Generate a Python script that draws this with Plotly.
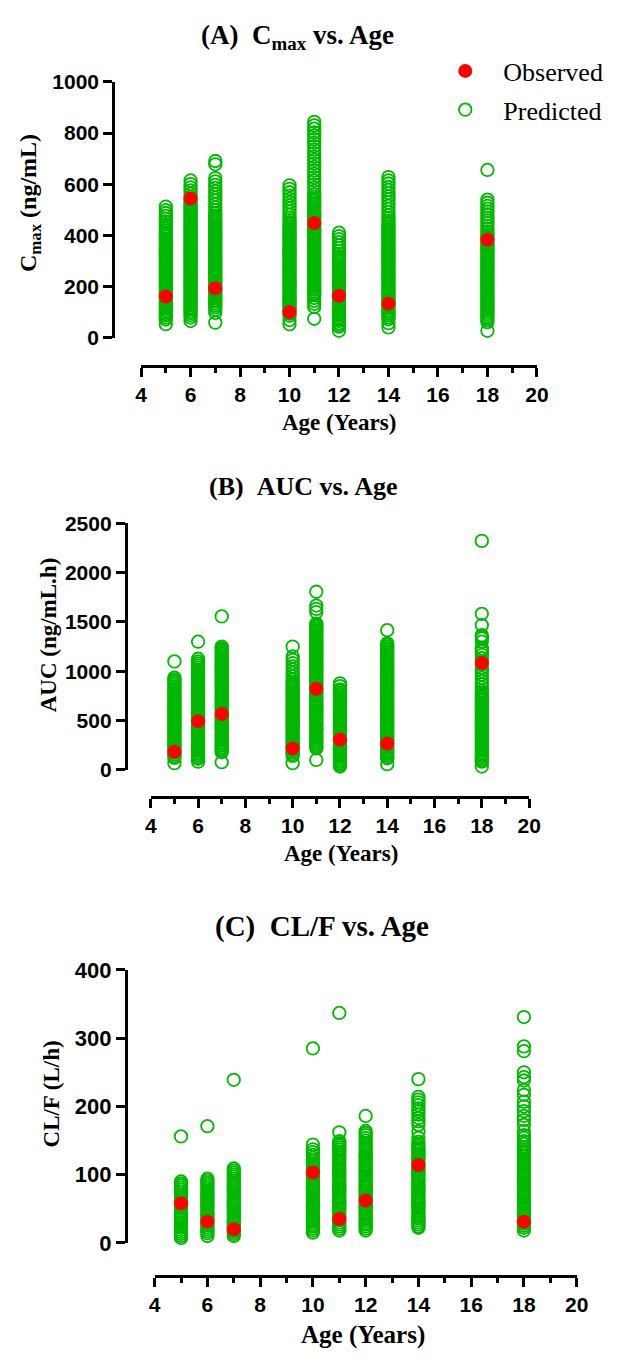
import plotly.graph_objects as go

# ---------------- data ----------------
ages = [5, 6, 7, 10, 11, 12, 14, 18]
x_ticks = [4, 6, 8, 10, 12, 14, 16, 18, 20]

# (A) Cmax (ng/mL)
cmax_observed = [162, 545, 194, 101, 449, 165, 134, 383]
cmax_age5 = [513, 499, 488, 477, 466, 455, 444, 434, 426, 419, 411, 403, 396, 388, 381, 374, 367, 360, 352, 346, 338, 331, 324, 317, 309, 303, 295, 288, 281, 274, 266, 260, 252, 245, 238, 231, 223, 217, 209, 202, 195, 188, 180, 174, 166, 159, 152, 145, 137, 131, 123, 116, 109, 102, 94, 88, 80, 72, 54]
cmax_age6 = [615, 601, 588, 576, 563, 551, 540, 530, 521, 513, 506, 499, 491, 484, 477, 470, 462, 456, 448, 441, 434, 427, 419, 413, 405, 398, 391, 384, 376, 370, 362, 355, 348, 341, 333, 327, 319, 312, 305, 298, 290, 284, 276, 269, 262, 255, 247, 241, 233, 226, 219, 212, 204, 198, 190, 183, 176, 169, 161, 155, 147, 140, 133, 126, 118, 112, 104, 97, 89, 80, 66]
cmax_age7 = [691, 678, 624, 611, 598, 586, 573, 561, 548, 536, 523, 511, 499, 488, 479, 472, 464, 457, 450, 443, 435, 428, 421, 414, 406, 400, 392, 385, 378, 371, 363, 357, 349, 342, 335, 328, 320, 314, 306, 299, 292, 285, 277, 271, 263, 256, 249, 242, 234, 228, 220, 213, 206, 199, 191, 185, 177, 170, 163, 156, 148, 142, 134, 127, 120, 110, 98, 60]
cmax_age10 = [596, 582, 569, 556, 543, 530, 517, 505, 493, 481, 470, 460, 451, 443, 436, 429, 421, 414, 407, 400, 392, 385, 378, 371, 363, 356, 349, 342, 334, 327, 320, 313, 305, 298, 291, 284, 276, 269, 262, 255, 247, 240, 233, 226, 218, 211, 204, 197, 189, 182, 175, 168, 160, 153, 146, 139, 131, 124, 117, 110, 102, 95, 87, 70, 54]
cmax_age11 = [844, 830, 817, 803, 790, 776, 762, 749, 735, 722, 708, 695, 681, 668, 654, 641, 627, 614, 600, 587, 574, 561, 551, 543, 536, 529, 521, 514, 507, 500, 492, 485, 478, 471, 463, 456, 449, 442, 434, 427, 420, 413, 405, 398, 391, 384, 376, 369, 362, 355, 347, 340, 333, 326, 318, 311, 304, 297, 289, 282, 275, 268, 260, 253, 246, 239, 231, 224, 217, 210, 202, 195, 188, 181, 173, 166, 156, 145, 133, 121, 75]
cmax_age12 = [411, 398, 386, 374, 362, 350, 339, 328, 319, 312, 305, 298, 290, 283, 276, 269, 261, 254, 247, 240, 232, 225, 218, 211, 203, 196, 189, 182, 174, 167, 160, 153, 145, 138, 131, 124, 116, 109, 102, 95, 87, 80, 73, 66, 58, 51, 44, 28]
cmax_age14 = [628, 615, 603, 590, 578, 566, 553, 541, 529, 516, 504, 492, 480, 469, 459, 450, 443, 436, 428, 421, 414, 407, 399, 392, 385, 378, 370, 363, 356, 349, 341, 334, 327, 320, 312, 305, 298, 291, 283, 276, 269, 262, 254, 247, 240, 233, 225, 218, 211, 204, 196, 189, 182, 175, 167, 160, 153, 146, 138, 131, 124, 117, 109, 102, 95, 88, 80, 73, 58, 41]
cmax_age18 = [656, 540, 528, 516, 505, 494, 482, 470, 459, 448, 437, 426, 415, 405, 397, 390, 383, 375, 368, 361, 354, 346, 339, 332, 325, 317, 310, 303, 296, 288, 281, 274, 267, 259, 252, 245, 238, 230, 223, 216, 209, 201, 194, 187, 180, 172, 165, 158, 151, 143, 136, 129, 122, 114, 107, 100, 93, 85, 78, 70, 62, 28]

# (B) AUC (ng/mL.h)
auc_observed = [183, 493, 567, 217, 823, 307, 267, 1083]
auc_age5 = [1100, 935, 917, 899, 882, 864, 846, 829, 811, 793, 776, 758, 740, 723, 707, 690, 673, 656, 640, 623, 606, 589, 573, 556, 539, 522, 506, 489, 472, 455, 439, 422, 405, 388, 372, 355, 338, 321, 305, 288, 271, 254, 238, 221, 204, 187, 171, 154, 137, 120, 67]
auc_age6 = [1300, 1127, 1100, 1080, 1060, 1040, 1020, 1000, 983, 966, 950, 933, 916, 899, 883, 866, 849, 832, 816, 799, 782, 765, 749, 732, 715, 698, 682, 665, 648, 631, 615, 598, 581, 564, 548, 531, 514, 497, 481, 464, 447, 430, 414, 397, 380, 363, 347, 330, 313, 296, 280, 263, 246, 229, 213, 196, 179, 162, 146, 129, 112, 83]
auc_age7 = [1557, 1250, 1233, 1216, 1200, 1183, 1166, 1149, 1133, 1116, 1099, 1083, 1066, 1049, 1032, 1016, 999, 982, 965, 949, 932, 915, 898, 882, 865, 848, 831, 815, 798, 781, 764, 748, 731, 714, 697, 681, 664, 647, 630, 614, 597, 580, 563, 547, 530, 513, 496, 480, 463, 446, 429, 413, 396, 379, 362, 346, 329, 312, 295, 279, 262, 245, 228, 212, 195, 178, 77]
auc_age10 = [1250, 1150, 1117, 1083, 1050, 1017, 983, 950, 917, 895, 878, 861, 844, 828, 811, 794, 777, 761, 744, 727, 710, 694, 677, 660, 643, 627, 610, 593, 576, 560, 543, 526, 509, 493, 476, 459, 442, 426, 409, 392, 375, 359, 342, 325, 308, 292, 275, 258, 241, 225, 208, 191, 174, 158, 141, 67]
auc_age11 = [1807, 1667, 1633, 1600, 1483, 1466, 1450, 1433, 1416, 1400, 1383, 1366, 1350, 1333, 1316, 1300, 1283, 1266, 1250, 1233, 1216, 1200, 1183, 1166, 1150, 1133, 1116, 1100, 1083, 1066, 1050, 1033, 1016, 1000, 983, 966, 950, 933, 916, 900, 883, 866, 850, 833, 816, 800, 783, 766, 750, 733, 716, 700, 683, 666, 650, 633, 616, 600, 583, 566, 550, 533, 516, 500, 483, 466, 450, 433, 416, 400, 383, 366, 350, 333, 316, 300, 283, 266, 250, 233, 217, 100]
auc_age12 = [877, 850, 817, 800, 783, 767, 750, 733, 716, 699, 683, 666, 649, 632, 616, 599, 582, 565, 549, 532, 515, 498, 482, 465, 448, 431, 415, 398, 381, 364, 348, 331, 314, 297, 281, 264, 247, 230, 214, 197, 180, 163, 147, 130, 113, 96, 80, 63, 50, 33]
auc_age14 = [1417, 1283, 1267, 1250, 1233, 1217, 1200, 1183, 1167, 1150, 1133, 1117, 1100, 1083, 1066, 1049, 1033, 1016, 999, 982, 966, 949, 932, 915, 899, 882, 865, 848, 832, 815, 798, 781, 765, 748, 731, 714, 698, 681, 664, 647, 631, 614, 597, 580, 564, 547, 530, 513, 497, 480, 463, 446, 430, 413, 396, 379, 363, 346, 329, 312, 296, 279, 262, 245, 229, 212, 195, 178, 162, 145, 128, 117, 57]
auc_age18 = [2323, 1583, 1467, 1367, 1350, 1333, 1300, 1233, 1217, 1200, 1167, 1133, 1100, 1067, 1033, 1000, 967, 933, 900, 867, 833, 800, 783, 766, 749, 733, 716, 699, 682, 666, 649, 632, 615, 599, 582, 565, 548, 532, 515, 498, 481, 465, 448, 431, 414, 398, 381, 364, 347, 331, 314, 297, 280, 264, 247, 230, 213, 197, 180, 163, 146, 130, 113, 96, 83, 33]

# (C) CL/F (L/h)
cl_observed = [58, 31, 20, 103, 35, 62, 114, 31]
cl_age5 = [156, 90, 87, 84, 81, 78, 75, 72, 69, 66, 64, 61, 58, 55, 52, 50, 47, 44, 41, 38, 36, 33, 30, 27, 24, 22, 19, 16, 13, 10, 7]
cl_age6 = [171, 94, 91, 88, 85, 82, 79, 76, 73, 70, 68, 65, 62, 59, 56, 54, 51, 48, 45, 42, 40, 37, 34, 31, 28, 26, 23, 20, 17, 14, 10]
cl_age7 = [239, 109, 106, 103, 100, 97, 94, 91, 88, 86, 83, 80, 77, 74, 72, 69, 66, 63, 60, 58, 55, 52, 49, 46, 44, 41, 38, 35, 32, 30, 27, 24, 21, 18, 16, 13, 10]
cl_age10 = [285, 144, 137, 133, 129, 125, 122, 119, 116, 113, 110, 108, 105, 102, 99, 96, 94, 91, 88, 85, 82, 80, 77, 74, 71, 68, 66, 63, 60, 57, 54, 52, 49, 46, 43, 40, 38, 35, 32, 29, 26, 24, 21, 18, 15]
cl_age11 = [337, 162, 149, 146, 143, 140, 137, 134, 131, 128, 125, 122, 120, 117, 114, 111, 108, 106, 103, 100, 97, 94, 92, 89, 86, 83, 80, 78, 75, 72, 69, 66, 64, 61, 58, 55, 52, 50, 47, 44, 41, 38, 36, 33, 30, 27, 24, 21, 18]
cl_age12 = [186, 164, 161, 158, 154, 150, 146, 142, 139, 136, 133, 130, 127, 125, 122, 119, 116, 113, 111, 108, 105, 102, 99, 97, 94, 91, 88, 85, 83, 80, 77, 74, 71, 69, 66, 63, 60, 57, 55, 52, 49, 46, 43, 41, 38, 35, 32, 29, 27, 24, 21, 18]
cl_age14 = [240, 214, 210, 206, 202, 197, 193, 188, 183, 178, 173, 163, 154, 148, 145, 142, 139, 136, 134, 131, 128, 125, 122, 120, 117, 114, 111, 108, 106, 103, 100, 97, 94, 92, 89, 86, 83, 80, 78, 75, 72, 69, 66, 64, 61, 58, 55, 52, 50, 47, 44, 41, 38, 36, 33, 30, 27, 24, 22]
cl_age18 = [331, 288, 281, 250, 243, 238, 224, 217, 207, 200, 193, 186, 180, 173, 164, 158, 154, 149, 145, 140, 137, 134, 131, 128, 126, 123, 120, 117, 114, 112, 109, 106, 103, 100, 98, 95, 92, 89, 86, 84, 81, 78, 75, 72, 70, 67, 64, 61, 58, 56, 53, 50, 47, 44, 42, 39, 36, 33, 30, 28, 25, 22, 18]

cmax_pred = [cmax_age5, cmax_age6, cmax_age7, cmax_age10, cmax_age11, cmax_age12, cmax_age14, cmax_age18]
auc_pred = [auc_age5, auc_age6, auc_age7, auc_age10, auc_age11, auc_age12, auc_age14, auc_age18]
cl_pred = [cl_age5, cl_age6, cl_age7, cl_age10, cl_age11, cl_age12, cl_age14, cl_age18]

# ---------------- layout helpers ----------------
# The page body keeps the browser's default 8px margin, so the figure is
# sized to fill the 618x1360 window exactly inside that margin.
PAGE_MARGIN = 8
W, H = 618 - 2 * PAGE_MARGIN, 1360 - 2 * PAGE_MARGIN
def fx(p):
    return (p - PAGE_MARGIN) / W
def fy(p):
    return 1 - (p - PAGE_MARGIN) / H

GREEN = "#00b800"
RED = "#ff0000"
SERIF = "Liberation Serif"
SANS = "Liberation Sans"

panels = [
    dict(pred=cmax_pred, obs=cmax_observed, yx=110, y0=332, y1=71, ymax=1000, dy=200, xy=361, x0=139, x1=547, yfs=21),
    dict(pred=auc_pred, obs=auc_observed, yx=123, y0=772, y1=521, ymax=2500, dy=500, xy=800, x0=149, x1=539, yfs=21),
    dict(pred=cl_pred, obs=cl_observed, yx=123, y0=1254, y1=976, ymax=400, dy=100, xy=1288, x0=153, x1=588, yfs=22),
]

fig = go.Figure()
layout = dict(
    width=W, height=H, autosize=False,
    margin=dict(l=0, r=0, t=0, b=0),
    paper_bgcolor="white", plot_bgcolor="white",
    showlegend=True,
)

for i, p in enumerate(panels):
    sfx = "" if i == 0 else str(i + 1)
    xs, ys = [], []
    for a, vals in zip(ages, p["pred"]):
        xs += [a] * len(vals)
        ys += vals
    fig.add_trace(go.Scatter(
        x=xs, y=ys, mode="markers", name="Predicted",
        xaxis="x" + sfx, yaxis="y" + sfx, cliponaxis=False,
        marker=dict(symbol="circle-open", size=12.5, color=GREEN, line=dict(width=1.8, color=GREEN)),
        showlegend=(i == 0), legendgroup="pred", legendrank=2, hoverinfo="skip",
    ))
    fig.add_trace(go.Scatter(
        x=ages, y=p["obs"], mode="markers", name="Observed",
        xaxis="x" + sfx, yaxis="y" + sfx, cliponaxis=False,
        marker=dict(symbol="circle", size=14, color=RED, line=dict(width=0)),
        showlegend=(i == 0), legendgroup="obs", legendrank=1, hoverinfo="skip",
    ))
    layout["xaxis" + sfx] = dict(
        domain=[fx(p["x0"]), fx(p["x1"])], range=[4, 20],
        anchor="free", position=fy(p["xy"]),
        showline=True, linecolor="black", linewidth=2.5,
        ticks="outside", ticklen=9, tickwidth=2.5, tickcolor="black",
        tickvals=x_ticks, ticktext=[str(v) for v in x_ticks],
        tickfont=dict(family=SANS, size=21, color="black", weight="bold"),
        minor=dict(tickvals=[5, 7, 9, 11, 13, 15, 17, 19], ticks="outside", ticklen=5,
                   tickwidth=2.5, tickcolor="black", showgrid=False),
        showgrid=False, zeroline=False, fixedrange=True,
    )
    yt = list(range(0, p["ymax"] + 1, p["dy"]))
    layout["yaxis" + sfx] = dict(
        domain=[fy(p["y0"]), fy(p["y1"])], range=[0, p["ymax"]],
        anchor="free", position=fx(p["yx"]),
        showline=True, linecolor="black", linewidth=2.5,
        ticks="outside", ticklen=9, tickwidth=2.5, tickcolor="black",
        tickvals=yt, ticktext=[str(v) for v in yt],
        tickfont=dict(family=SANS, size=p["yfs"], color="black", weight="bold"),
        showgrid=False, zeroline=False, fixedrange=True,
    )

nb = "\u00a0"
annotations = []
titles = [
    ("(A)" + nb * 2 + "C<sub>max</sub> vs. Age", 300, 25, 27),
    ("(B)" + nb * 2 + "AUC vs. Age", 306, 483, 26),
    ("(C)" + nb * 2 + "CL/F vs. Age", 325, 932, 29),
]
for t, x, y, s in titles:
    annotations.append(dict(text=t, x=fx(x), y=fy(y), xref="paper", yref="paper",
                            xanchor="center", yanchor="middle", showarrow=False,
                            font=dict(family=SERIF, size=s, color="black", weight="bold")))
for x, y, s in [(343, 418, 23), (345, 857, 23), (368, 1348, 25)]:
    annotations.append(dict(text="Age (Years)", x=fx(x), y=fy(y), xref="paper", yref="paper",
                            xanchor="center", yanchor="middle", showarrow=False,
                            font=dict(family=SERIF, size=s, color="black", weight="bold")))
for t, x, y, s in [("C<sub>max</sub> (ng/mL)", 24, 195, 24), ("AUC (ng/mL.h)", 43, 634, 23), ("CL/F (L/h)", 47, 1102, 23)]:
    annotations.append(dict(text=t, x=fx(x), y=fy(y), xref="paper", yref="paper",
                            xanchor="center", yanchor="middle", showarrow=False, textangle=-90,
                            font=dict(family=SERIF, size=s, color="black", weight="bold")))
layout["annotations"] = annotations

layout["legend"] = dict(
    x=fx(434), y=fy(36), xanchor="left", yanchor="top",
    font=dict(family=SERIF, size=26, color="black"),
    bgcolor="rgba(0,0,0,0)", borderwidth=0,
    traceorder="grouped", tracegroupgap=2, itemwidth=66,
)

fig.update_layout(**layout)
fig.write_html("out.html", config={"displayModeBar": False})
